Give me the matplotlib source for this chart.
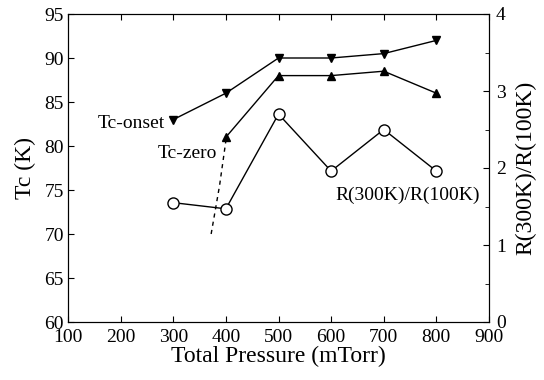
import numpy as np
import matplotlib.pyplot as plt

plt.rcParams['font.family'] = ['Liberation Serif', 'DejaVu Serif']

pressure = [300, 400, 500, 600, 700, 800]
tc_onset = [83, 86, 90, 90, 90.5, 92]
p_zero = [400, 500, 600, 700, 800]
tc_zero = [81, 88, 88, 88.5, 86]
ratio = [1.55, 1.47, 2.70, 1.96, 2.50, 1.96]
dash_p = [372, 388, 400]
dash_tc = [70, 75.5, 80.6]

fig = plt.figure(figsize=(5.44, 3.8), dpi=100)
ax = fig.add_axes([68/544, 1 - 322/380, (489-68)/544, (322-14)/380])

ax.plot(pressure, tc_onset, 'k-', lw=1, marker='v', ms=6)
ax.plot(p_zero, tc_zero, 'k-', lw=1, marker='^', ms=6)
ax.plot(dash_p, dash_tc, 'k--', lw=1, dashes=(3, 3))

ax.set_xlim(100, 900)
ax.set_ylim(60, 95)
ax.set_xticks(range(100, 1000, 100))
ax.set_yticks(range(60, 100, 5))
ax.tick_params(direction='in', top=True, labelsize=14, length=4, width=0.8)
ax.tick_params(axis='x', pad=5)
ax.tick_params(axis='y', pad=3)
ax.set_xlabel('Total Pressure (mTorr)', fontsize=17, labelpad=0)
ax.set_ylabel('Tc (K)', fontsize=17, labelpad=6)

ax2 = ax.twinx()
ax2.plot(pressure, ratio, 'k-', lw=1, marker='o', ms=8, mfc='white', mew=1)
ax2.set_ylim(0, 4)
ax2.set_yticks([0, 1, 2, 3, 4])
ax2.set_yticks(np.arange(0.5, 4, 1), minor=True)
ax2.tick_params(direction='in', labelsize=14, length=4, width=0.8, pad=5)
ax2.tick_params(which='minor', direction='in', length=3)
ax2.set_ylabel('R(300K)/R(100K)', fontsize=17, labelpad=7)

ax.text(284, 82.6, 'Tc-onset', fontsize=14, ha='right', va='center')
ax.text(383, 79.2, 'Tc-zero', fontsize=14, ha='right', va='center')
ax.text(883, 74.4, 'R(300K)/R(100K)', fontsize=14, ha='right', va='center')

fig.savefig('out.png', dpi=100)
